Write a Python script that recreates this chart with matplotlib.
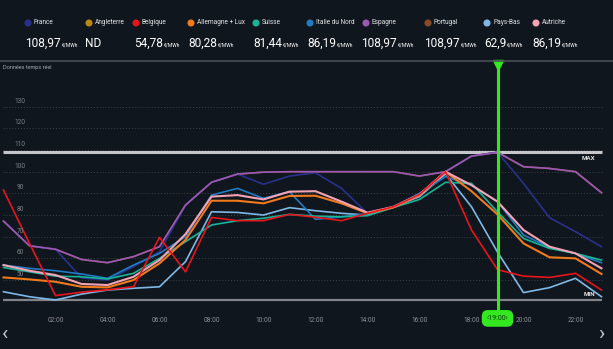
import matplotlib
matplotlib.use('Agg')
import matplotlib.pyplot as plt

plt.rcParams['font.family'] = ['Roboto', 'DejaVu Sans']

BG = '#10161d'
GREEN = '#33e81f'

# hourly prices (EUR/MWh), hours 0..23
hours = list(range(24))
france = [77.2, 65.8, 64.2, 51.0, 50.0, 56.2, 63.0, 84.6, 95.1, 98.9, 94.2, 98.0,
          99.5, 92.3, 80.8, 83.8, 89.5, 100.0, 107.2, 108.97, 94.6, 78.8, 72.3, 65.4]
angleterre = None  # ND
belgique = [91.5, 66.9, 42.8, 44.4, 45.5, 46.9, 69.7, 53.8, 78.9, 77.4, 77.4, 80.3,
            79.0, 77.4, 80.8, 83.8, 89.5, 100.0, 73.1, 54.78, 51.8, 51.2, 53.1, 45.4]
allemagne = [51.2, 50.3, 49.2, 46.9, 46.6, 50.0, 57.7, 68.5, 86.6, 86.6, 85.4, 88.8,
             88.9, 85.4, 80.8, 83.5, 89.2, 100.0, 91.0, 80.28, 66.9, 60.5, 60.0, 52.8]
suisse = [55.8, 53.8, 51.8, 51.5, 50.5, 53.1, 60.0, 67.7, 75.4, 77.4, 78.5, 80.3,
          79.5, 79.2, 79.7, 83.5, 87.2, 95.1, 94.6, 81.44, 69.2, 64.6, 62.3, 59.2]
italie = [56.9, 55.4, 54.3, 52.8, 50.8, 56.9, 62.3, 70.0, 89.2, 92.3, 87.7, 90.8,
          78.0, 79.2, 80.5, 83.8, 90.0, 97.7, 93.8, 86.19, 70.8, 65.0, 62.3, 58.0]
espagne = [77.2, 65.8, 64.2, 59.5, 58.0, 60.8, 65.4, 84.6, 95.1, 98.9, 99.8, 100.0,
           100.0, 100.0, 100.0, 100.0, 98.0, 100.0, 107.2, 108.97, 102.3, 101.5, 100.0, 90.3]
portugal = list(espagne)
pays_bas = [44.6, 42.3, 40.8, 43.5, 45.4, 46.2, 46.9, 58.5, 81.5, 81.2, 80.0, 83.4,
            82.0, 80.8, 80.0, 83.8, 88.5, 99.0, 83.8, 62.9, 44.2, 46.5, 50.8, 42.3]
autriche = [56.9, 54.3, 52.3, 48.2, 47.7, 51.5, 59.2, 71.2, 88.5, 89.2, 87.2, 90.8,
            91.0, 86.2, 81.1, 83.8, 89.5, 100.0, 93.8, 86.19, 73.1, 65.4, 62.3, 55.4]

countries = ['France', 'Angleterre', 'Belgique', 'Allemagne + Lux', 'Suisse',
             'Italie du Nord', 'Espagne', 'Portugal', 'Pays-Bas', 'Autriche']
series = [france, angleterre, belgique, allemagne, suisse,
          italie, espagne, portugal, pays_bas, autriche]
colors = ['#28318c', '#b8890f', '#e8141c', '#f07a1c', '#17b497',
          '#1f7bc2', '#9b59b6', '#8a4a25', '#7fb8e6', '#f4a3b4']
# order in which the lines are drawn (last on top)
draw_order = [7, 0, 6, 8, 5, 4, 3, 9, 2]

selected_hour = 19
x_ticks = [2, 4, 6, 8, 10, 12, 14, 16, 18, 20, 22]
x_labels = ['02:00', '04:00', '06:00', '08:00', '10:00', '12:00',
            '14:00', '16:00', '18:00', '20:00', '22:00']
y_grid = [50, 60, 70, 80, 90, 100, 110, 120, 130]

# header positions (pixels)
dot_x = [28, 89, 136, 191, 256, 310, 366, 428, 487, 536]
val_x = [25, 85, 134, 188, 253, 307, 361, 424, 484, 532]

fig = plt.figure(figsize=(6.13, 3.49), dpi=100, facecolor=BG)
ax = fig.add_axes([0, 49 / 349, 1, 240 / 349])
ax.set_facecolor(BG)
ax.set_xlim(-0.1346, 23.442)
ax.set_ylim(40.79, 151.55)
for s in ax.spines.values():
    s.set_visible(False)

all_vals = [v for s in series if s is not None for v in s]
vmax, vmin = max(all_vals), min(all_vals)

# grid + y labels
ax.hlines(y_grid, -0.02, 23.02, colors='#3c424a', linestyles=(0, (1, 2)), lw=0.7, zorder=0)
for v in y_grid:
    ax.text(0.65, v + 2.6, str(v), ha='center', va='center', fontsize=4.7, color='#7d8288')

ax.hlines(vmax, -0.02, 23.02, colors='#c4c6c9', lw=2.2, zorder=1)
ax.hlines(vmin, -0.02, 23.02, colors='#80848a', lw=1.6, zorder=1, clip_on=False)
ax.text(22.48, 105.9, 'MAX', ha='center', va='center', fontsize=4.5,
        fontweight='bold', color='#e6e6e6')
ax.text(22.52, 43.4, 'MIN', ha='center', va='center', fontsize=4.5,
        fontweight='bold', color='#e6e6e6', zorder=4)

for i in draw_order:
    lw = 1.5 if i in (3, 9) else 1.2
    ax.plot(hours, series[i], color=colors[i], lw=lw, clip_on=False, zorder=2)

# selected hour cursor
ax.plot([selected_hour, selected_hour], [149.5, 36.6], color=GREEN, lw=2.2,
        clip_on=False, zorder=5)
ax.plot(selected_hour, 149.2, marker='v', ms=6.5, color=GREEN, clip_on=False, zorder=5)
ax.text(selected_hour, 32.3, f'‹{selected_hour:02d}:00›', ha='center', va='center',
        fontsize=5, color='#0d3a09', clip_on=False, zorder=6,
        bbox=dict(boxstyle='round,pad=0.7,rounding_size=0.9', fc=GREEN, ec='none'))

ax.set_xticks(x_ticks, x_labels)
ax.set_yticks([])
ax.tick_params(axis='x', length=0, pad=12, labelsize=4.7, labelcolor='#8e9297')

# overlay in pixel coordinates for header text
ov = fig.add_axes([0, 0, 1, 1], facecolor='none')
ov.set_xlim(0, 613)
ov.set_ylim(349, 0)
ov.axis('off')
ov.plot([0, 613], [60.5, 60.5], color='#4a4f56', lw=1.2)
ov.text(3, 67, 'Données temps réel', fontsize=4, color='#a5a9ae', va='center')
ov.text(5, 334, '‹', fontsize=15, color='#c8ccd1', ha='center', va='center')
ov.text(601, 334, '›', fontsize=15, color='#c8ccd1', ha='center', va='center')

ov.scatter(dot_x, [23] * len(dot_x), s=26, c=colors, linewidths=0)
for i, name in enumerate(countries):
    ov.text(dot_x[i] + 6, 23, name, fontsize=4.7, color='#e3e5e8', va='center')
    s = series[i]
    if s is None:
        ov.text(val_x[i], 46.7, 'ND', fontsize=8.6, color='white', va='baseline')
        continue
    txt = f'{s[selected_hour]:.2f}'.rstrip('0').rstrip('.').replace('.', ',')
    t = ov.text(val_x[i], 46.7, txt, fontsize=8.6, color='white', va='baseline')
    ov.annotate('€/MWh', xy=(1, 0), xycoords=t, xytext=(0.6, 1.4),
                textcoords='offset points', fontsize=3.6, color='white',
                va='bottom', ha='left')

fig.savefig('out.png', dpi=100, facecolor=BG)
